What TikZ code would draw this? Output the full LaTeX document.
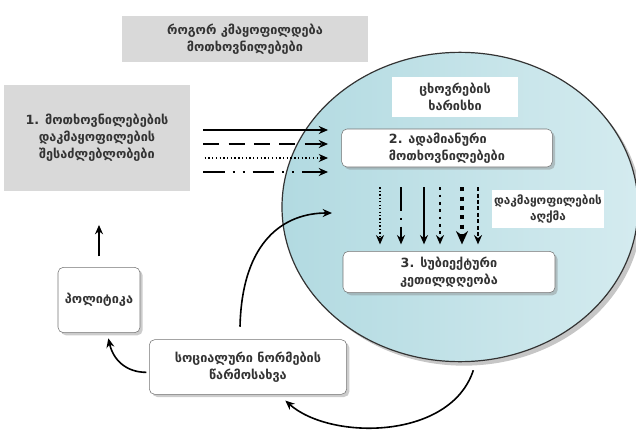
\documentclass[tikz,border=0pt]{standalone}
\usepackage{fontspec}
\setmainfont{DejaVu Sans}
\usetikzlibrary{arrows.meta,shadows,shapes.geometric}
\definecolor{boxgray}{RGB}{217,217,217}
\definecolor{lifeblue}{RGB}{178,218,225}
\definecolor{lifelight}{RGB}{212,235,239}
\begin{document}
\begin{tikzpicture}[x=0.75pt,y=-0.75pt,
    txt/.style={font=\fontsize{9.5}{12.75}\selectfont\bfseries, align=center, text=black!80},
    graybox/.style={txt, fill=boxgray, inner sep=0pt},
    whitebox/.style={txt, fill=white, inner sep=0pt},
    roundbox/.style={txt, draw=black!55, fill=white, rounded corners=4pt, inner sep=0pt,
        drop shadow={shadow xshift=2pt, shadow yshift=-2pt, opacity=0.4}},
    arr/.style={-{Stealth[length=7pt,width=6pt]}, line width=1.5pt},
    curv/.style={-{Stealth[length=7pt,width=6pt]}, line width=1.2pt}]
    \useasboundingbox (0,0) rectangle (636,432);
    % quality of life
    \node[ellipse, draw=black!80, line width=0.9pt, left color=lifeblue, right color=lifelight,
        minimum width=267pt, minimum height=232pt,
        drop shadow={shadow xshift=3pt, shadow yshift=-3pt, opacity=0.45}] (life) at (460,207) {};
    \node[graybox, minimum width=184pt, minimum height=34pt] (title) at (245,39) {როგორ კმაყოფილდება\\მოთხოვნილებები};
    \node[graybox, minimum width=139pt, minimum height=80pt] (b1) at (97,138) {1. მოთხოვნილებების\\დაკმაყოფილების\\შესაძლებლობები};
    \node[whitebox, minimum width=94pt, minimum height=30pt] (qual) at (455,97) {ცხოვრების\\ხარისხი};
    \node[roundbox, minimum width=158pt, minimum height=28.5pt, align=left] (b2) at (447,148) {2. ადამიანური\\მოთხოვნილებები};
    \node[whitebox, minimum width=84pt, minimum height=28.5pt, font=\fontsize{8.8}{12}\selectfont\bfseries] (perc) at (548,209) {დაკმაყოფილების\\აღქმა};
    \node[roundbox, minimum width=159pt, minimum height=31pt] (b3) at (449,272) {3. სუბიექტური\\კეთილდღეობა};
    \node[roundbox, minimum width=61.5pt, minimum height=49pt] (pol) at (99,300) {პოლიტიკა};
    \node[roundbox, minimum width=148pt, minimum height=41pt] (soc) at (248,367) {სოციალური ნორმების\\წარმოსახვა};
    \coordinate (h1) at (0,130);
    \coordinate (h2) at (0,144);
    \coordinate (h3) at (0,158);
    \coordinate (h4) at (0,172);
    \coordinate (v1) at (380,0);
    \coordinate (v2) at (401,0);
    \coordinate (v3) at (424,0);
    \coordinate (v4) at (440,0);
    \coordinate (v5) at (462,0);
    \coordinate (v6) at (478,0);
    \coordinate (cin) at (332,213);
    % needs to human needs
    \draw[arr, shorten <=10pt, shorten >=10pt] (b1.east |- h1) -- (b2.west |- h1);
    \draw[arr, shorten <=10pt, shorten >=10pt, dash pattern=on 12pt off 7pt] (b1.east |- h2) -- (b2.west |- h2);
    \draw[arr, shorten <=11pt, shorten >=10pt, line width=0.9pt, dash pattern=on 1pt off 1.8pt] (b1.east |- h3) -- (b2.west |- h3);
    \draw[arr, shorten <=10pt, shorten >=10pt, dash pattern=on 16pt off 6pt on 1.5pt off 6pt on 1.5pt off 6pt] (b1.east |- h4) -- (b2.west |- h4);
    % human needs to well-being
    \draw[arr, shorten <=15pt, shorten >=5pt, line width=0.9pt, dash pattern=on 1pt off 1.6pt] (b2.south -| v1) -- (b3.north -| v1);
    \draw[arr, shorten <=15pt, shorten >=5pt, dash pattern=on 18pt off 5pt on 1.5pt off 5pt] (b2.south -| v2) -- (b3.north -| v2);
    \draw[arr, shorten <=15pt, shorten >=5pt] (b2.south -| v3) -- (b3.north -| v3);
    \draw[arr, shorten <=15pt, shorten >=5pt, line width=2pt, dash pattern=on 2pt off 3.5pt] (b2.south -| v4) -- (b3.north -| v4);
    \draw[-{Stealth[length=10pt,width=9pt]}, shorten <=15pt, shorten >=5pt, line width=3pt, dash pattern=on 3pt off 4pt] (b2.south -| v5) -- (b3.north -| v5);
    \draw[arr, shorten <=15pt, shorten >=5pt, line width=1.2pt, dash pattern=on 3pt off 1.8pt] (b2.south -| v6) -- (b3.north -| v6);
    % feedback
    \draw[arr, shorten <=8pt, shorten >=25pt] (pol.north) -- (pol.north |- b1.south);
    \draw[curv] ([xshift=-6pt,yshift=9.5pt]soc.north) .. controls +(2,-87) and +(-47,0) .. (cin);
    \draw[curv] ([xshift=10pt,yshift=-6pt]life.south) .. controls +(-23,70) and +(45,40) .. ([xshift=28pt,yshift=-4.5pt]soc.south);
    \draw[curv] ([xshift=-2pt,yshift=-4pt]soc.west) .. controls +(-20,0) and +(5,22) .. ([xshift=7pt,yshift=-4pt]pol.south);
\end{tikzpicture}
\end{document}
